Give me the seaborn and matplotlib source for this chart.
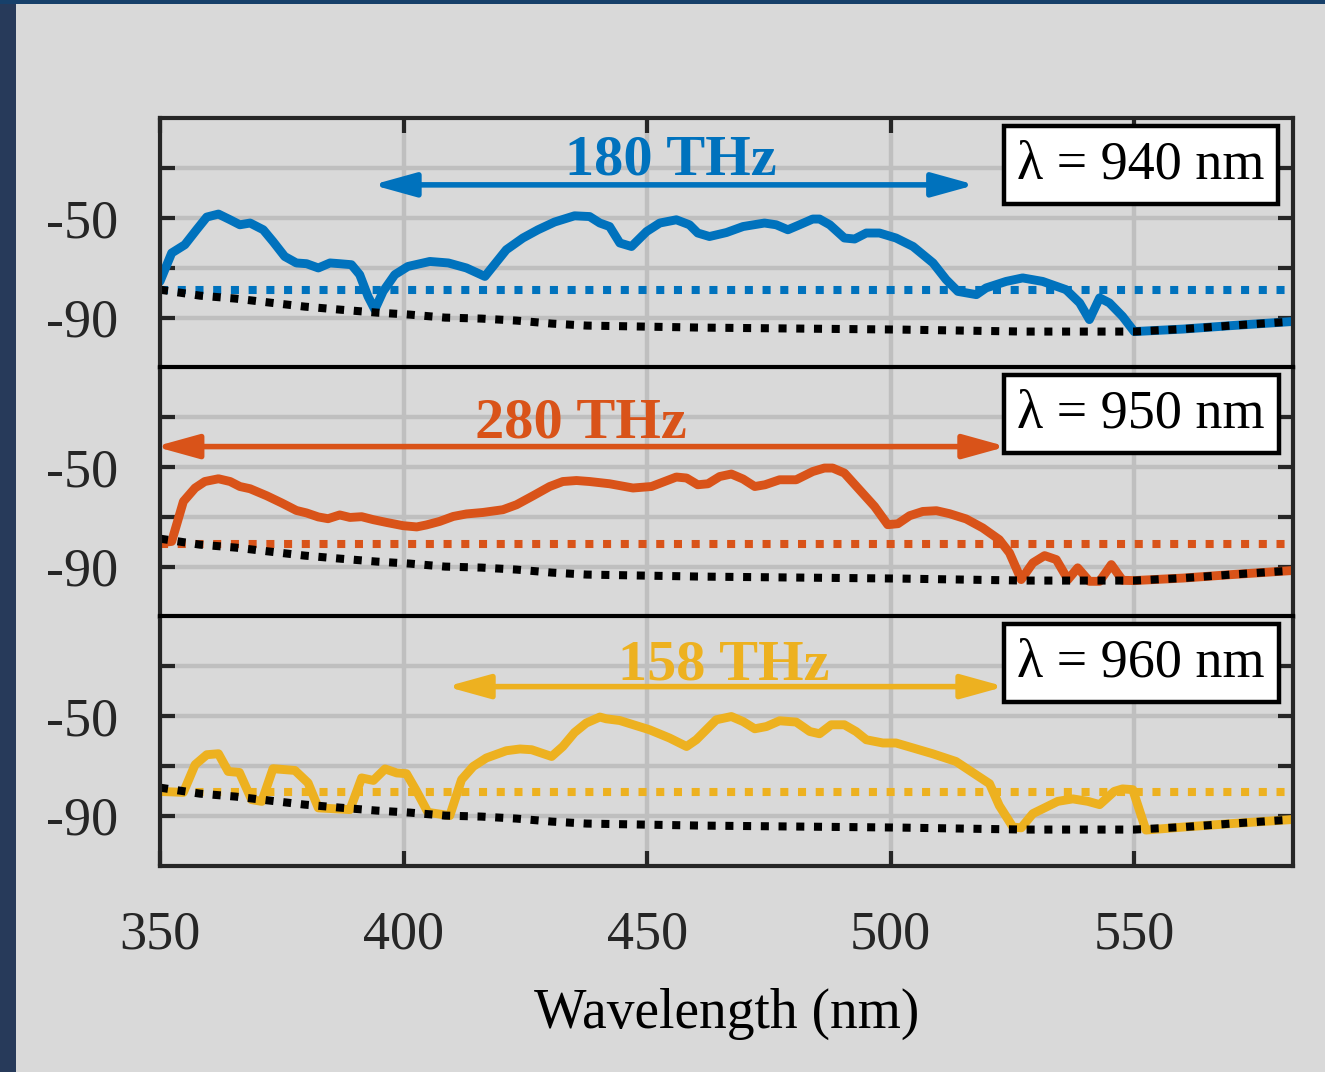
import seaborn as sns
import matplotlib.pyplot as plt
from matplotlib.patches import Rectangle, FancyArrowPatch
import numpy as np
import pandas as pd

# noise floor (black dotted), shared by all panels
noise_wl = [350.0, 358.2, 365.6, 372.6, 379.7, 386.9, 394.5, 401.3, 408.5, 416.0,
            423.2, 430.4, 437.6, 460.8, 501.8, 527.5, 550.0, 560.0, 570.0, 583.0]
noise_db = [-78.8, -81.2, -82.4, -84.0, -85.6, -86.8, -88.0, -88.8, -90.0, -90.4,
            -91.2, -92.4, -93.2, -94.0, -94.8, -95.6, -95.6, -94.6, -93.2, -91.5]

# lambda = 940 nm
wl_940 = [350.0, 352.4, 355.1, 357.5, 359.6, 362.0, 364.4, 366.4, 368.5, 371.2,
          373.2, 375.6, 378.0, 380.1, 382.5, 384.9, 386.9, 389.3, 391.0, 392.7,
          394.1, 395.8, 398.2, 400.9, 405.4, 409.2, 412.9, 416.7, 421.1, 424.5,
          427.6, 431.0, 435.1, 438.2, 440.3, 442.3, 444.4, 446.8, 449.9, 452.6,
          456.0, 458.7, 460.4, 462.8, 466.3, 469.7, 474.1, 476.5, 478.9, 481.3,
          484.0, 485.4, 487.5, 490.5, 492.6, 495.0, 497.7, 501.1, 504.6, 508.7,
          511.4, 513.8, 517.6, 519.6, 523.7, 527.1, 531.2, 536.0, 538.8, 540.8,
          542.9, 544.9, 547.6, 550.0, 560.0, 570.0, 583.0]
db_940 = [-75.5, -64.1, -60.8, -54.8, -49.7, -48.5, -50.8, -52.8, -52.1, -54.8,
          -59.5, -65.5, -68.1, -68.4, -70.1, -68.1, -68.4, -68.8, -72.8, -81.5,
          -86.8, -79.5, -72.8, -69.5, -67.5, -68.1, -70.1, -73.5, -62.8, -58.1,
          -54.8, -51.7, -49.2, -49.5, -52.1, -53.5, -60.1, -61.5, -55.5, -52.1,
          -50.8, -52.8, -56.1, -57.5, -55.9, -53.5, -52.1, -52.8, -54.8, -52.8,
          -50.5, -50.5, -52.8, -58.1, -58.5, -56.1, -56.1, -58.1, -61.5, -68.1,
          -74.8, -79.5, -80.8, -78.1, -75.5, -74.1, -75.5, -78.8, -84.1, -90.8,
          -82.1, -84.1, -89.5, -95.6, -94.6, -93.2, -91.5]

# lambda = 950 nm
wl_950 = [350.0, 352.4, 354.8, 357.2, 359.2, 362.0, 364.4, 366.4, 368.5, 371.9,
          375.0, 378.0, 380.1, 382.5, 384.5, 386.9, 389.0, 391.4, 393.8, 396.5,
          399.9, 402.7, 404.7, 407.4, 410.2, 412.9, 416.3, 420.4, 423.2, 426.6,
          430.0, 432.7, 435.5, 438.2, 442.3, 447.1, 450.9, 456.0, 458.1, 460.4,
          462.5, 464.9, 467.3, 469.7, 472.1, 474.2, 477.2, 480.6, 484.0, 486.4,
          488.1, 490.5, 493.6, 496.7, 499.4, 501.5, 503.9, 506.6, 509.4, 512.1,
          515.5, 518.9, 522.3, 524.4, 526.8, 529.2, 531.6, 534.0, 536.4, 538.4,
          540.8, 542.9, 545.3, 547.6, 550.0, 560.0, 570.0, 583.0]
db_950 = [-80.5, -79.9, -63.9, -58.5, -55.9, -54.8, -55.9, -57.9, -58.8, -61.6,
          -64.5, -67.5, -68.5, -70.1, -70.8, -69.3, -70.3, -70.0, -71.2, -72.3,
          -73.6, -74.1, -73.3, -71.9, -69.9, -68.9, -68.3, -67.2, -65.2, -61.6,
          -57.9, -55.9, -55.5, -55.9, -56.8, -58.5, -57.9, -54.1, -54.5, -57.2,
          -56.8, -53.9, -52.9, -54.9, -57.9, -57.2, -55.2, -55.2, -51.9, -50.5,
          -50.5, -52.5, -59.2, -65.9, -73.2, -72.8, -69.6, -67.9, -67.6, -68.8,
          -70.9, -74.5, -79.2, -84.5, -95.2, -88.5, -85.6, -87.2, -95.2, -90.5,
          -95.9, -95.9, -89.2, -95.5, -95.6, -94.6, -93.2, -91.5]

# lambda = 960 nm
wl_960 = [350.0, 354.8, 357.2, 359.6, 362.0, 364.0, 366.3, 368.8, 370.9, 373.2,
          377.7, 380.4, 382.5, 389.0, 391.4, 393.8, 396.2, 398.6, 400.6, 402.7,
          405.0, 409.5, 411.9, 414.3, 417.0, 421.1, 423.9, 426.3, 430.4, 432.7,
          435.1, 437.5, 440.3, 441.6, 444.4, 450.5, 454.6, 458.1, 460.1, 464.2,
          467.3, 469.7, 472.1, 474.5, 477.2, 480.6, 483.4, 485.4, 487.8, 490.5,
          492.9, 495.0, 498.4, 501.1, 504.6, 508.6, 513.4, 517.5, 520.3, 522.3,
          525.1, 526.8, 529.2, 531.6, 534.3, 537.4, 540.5, 542.9, 545.9, 547.6,
          549.7, 552.4, 560.0, 570.0, 583.0]
db_960 = [-80.3, -80.7, -69.6, -65.6, -65.2, -72.3, -72.7, -83.6, -84.3, -71.2,
          -71.9, -76.9, -86.9, -87.6, -74.9, -75.9, -71.3, -72.9, -73.2, -80.3,
          -88.7, -90.0, -75.6, -70.3, -66.9, -64.0, -63.3, -63.6, -66.3, -62.3,
          -56.7, -52.9, -50.5, -51.2, -51.9, -55.6, -58.9, -62.3, -59.6, -51.6,
          -50.3, -52.3, -55.2, -54.3, -52.0, -52.5, -56.3, -57.2, -53.6, -53.6,
          -56.3, -59.6, -60.9, -60.9, -62.9, -65.2, -68.3, -73.6, -77.2, -86.0,
          -94.6, -94.9, -89.2, -86.9, -84.3, -83.3, -84.3, -85.6, -80.3, -79.3,
          -79.6, -95.8, -94.6, -93.2, -91.5]

labels = ["\u03bb = 940 nm", "\u03bb = 950 nm", "\u03bb = 960 nm"]
thresholds = [-79.0, -81.0, -80.5]
bw_text = ["180 THz", "280 THz", "158 THz"]
bw_text_pos = [(454.9, -32.8), (436.5, -38.4), (465.7, -35.6)]
bw_arrow = [(393.6, 517.4, -36.8), (349.0, 523.8, -41.9), (408.8, 523.4, -38.3)]
colors = ["#0072BD", "#D95319", "#EDB120"]
x_ticks = [350, 400, 450, 500, 550]
y_ticks = [-90, -70, -50, -30]
y_ticklabels = ["-90", "", "-50", ""]

spectra = [(wl_940, db_940), (wl_950, db_950), (wl_960, db_960)]
noise = pd.DataFrame({"wl": noise_wl, "db": noise_db})

sns.set_style("white")
plt.rcParams['font.family'] = ['Liberation Serif', 'DejaVu Serif']

bg = "#d9d9d9"
fig = plt.figure(figsize=(13.25, 10.72), dpi=100, facecolor=bg)

W, H = 1325, 1072
left, right = 160 / W, 1293 / W
tops = [118, 367, 616]
ph = 249.5

axes = []
for i in range(3):
    ax = fig.add_axes([left, 1 - (tops[i] + ph) / H, right - left, ph / H])
    ax.set_facecolor(bg)
    axes.append(ax)

for i, ax in enumerate(axes):
    wl, db = spectra[i]
    df = pd.DataFrame({"wl": wl, "db": db})
    c = colors[i]

    sns.lineplot(data=df, x="wl", y="db", ax=ax, color=c, zorder=3)
    ax.axhline(thresholds[i], color=c, zorder=4)
    sns.lineplot(data=noise, x="wl", y="db", ax=ax, color="black", zorder=5)
    solid, thr, floor = ax.get_lines()[-3:]
    solid.set_linewidth(6.4)
    for ln in (thr, floor):
        ln.set_linewidth(5.8)
        ln.set_linestyle((0, (1, 1.2)))
        ln.set_dash_capstyle("butt")

    # bandwidth arrow and text
    x0, x1, ya = bw_arrow[i]
    arr = FancyArrowPatch((x0, ya), (x1, ya), arrowstyle="<|-|>,head_length=1.3,head_width=0.36",
                          mutation_scale=20, color=c, linewidth=4.0, shrinkA=0, shrinkB=0, zorder=6)
    ax.add_patch(arr)
    tx, ty = bw_text_pos[i]
    ax.text(tx, ty, bw_text[i], color=c, fontsize=42, fontweight="bold",
            ha="center", va="baseline", zorder=7)

    # wavelength label box
    ax.text(0.866, 0.812, labels[i], transform=ax.transAxes, fontsize=39, color="black",
            ha="center", va="center", zorder=8,
            bbox=dict(boxstyle="square,pad=0.25", facecolor="white", edgecolor="black", linewidth=3.2))

    ax.set_xlim(350, 582.6)
    ax.set_ylim(-110, -10)
    ax.set_xticks(x_ticks)
    ax.set_yticks(y_ticks)
    ax.set_yticklabels(y_ticklabels)
    ax.set_xlabel("")
    ax.set_ylabel("")
    ax.grid(True, color="#bfbfbf", linewidth=3.2)
    ax.set_axisbelow(True)

    for s in ax.spines.values():
        s.set_visible(True)
        s.set_color("#262626")
        s.set_linewidth(3)
        s.set_zorder(10)
    ax.tick_params(axis="y", which="both", direction="in", left=True, right=True,
                   length=11, width=3, color="#262626", labelsize=39,
                   labelcolor="#262626", pad=30)
    ax.tick_params(axis="x", direction="in", length=11, width=3, color="#262626",
                   labelsize=39, labelcolor="#262626", pad=32,
                   top=(i == 0), bottom=(i == 2), labeltop=False, labelbottom=(i == 2))

axes[0].spines["bottom"].set_color("black")
axes[1].spines["top"].set_color("black")
axes[1].spines["bottom"].set_color("black")
axes[2].spines["top"].set_color("black")

axes[2].set_xlabel("Wavelength (nm)", fontsize=40, color="black", labelpad=20)

# window border
fig.add_artist(Rectangle((0, 0), 16 / W, 1, transform=fig.transFigure,
                         facecolor="#273a5a", edgecolor="none"))
fig.add_artist(Rectangle((0, 1 - 4 / H), 1, 4 / H, transform=fig.transFigure,
                         facecolor="#17406a", edgecolor="none"))

fig.savefig("out.png", dpi=100, facecolor=bg)
